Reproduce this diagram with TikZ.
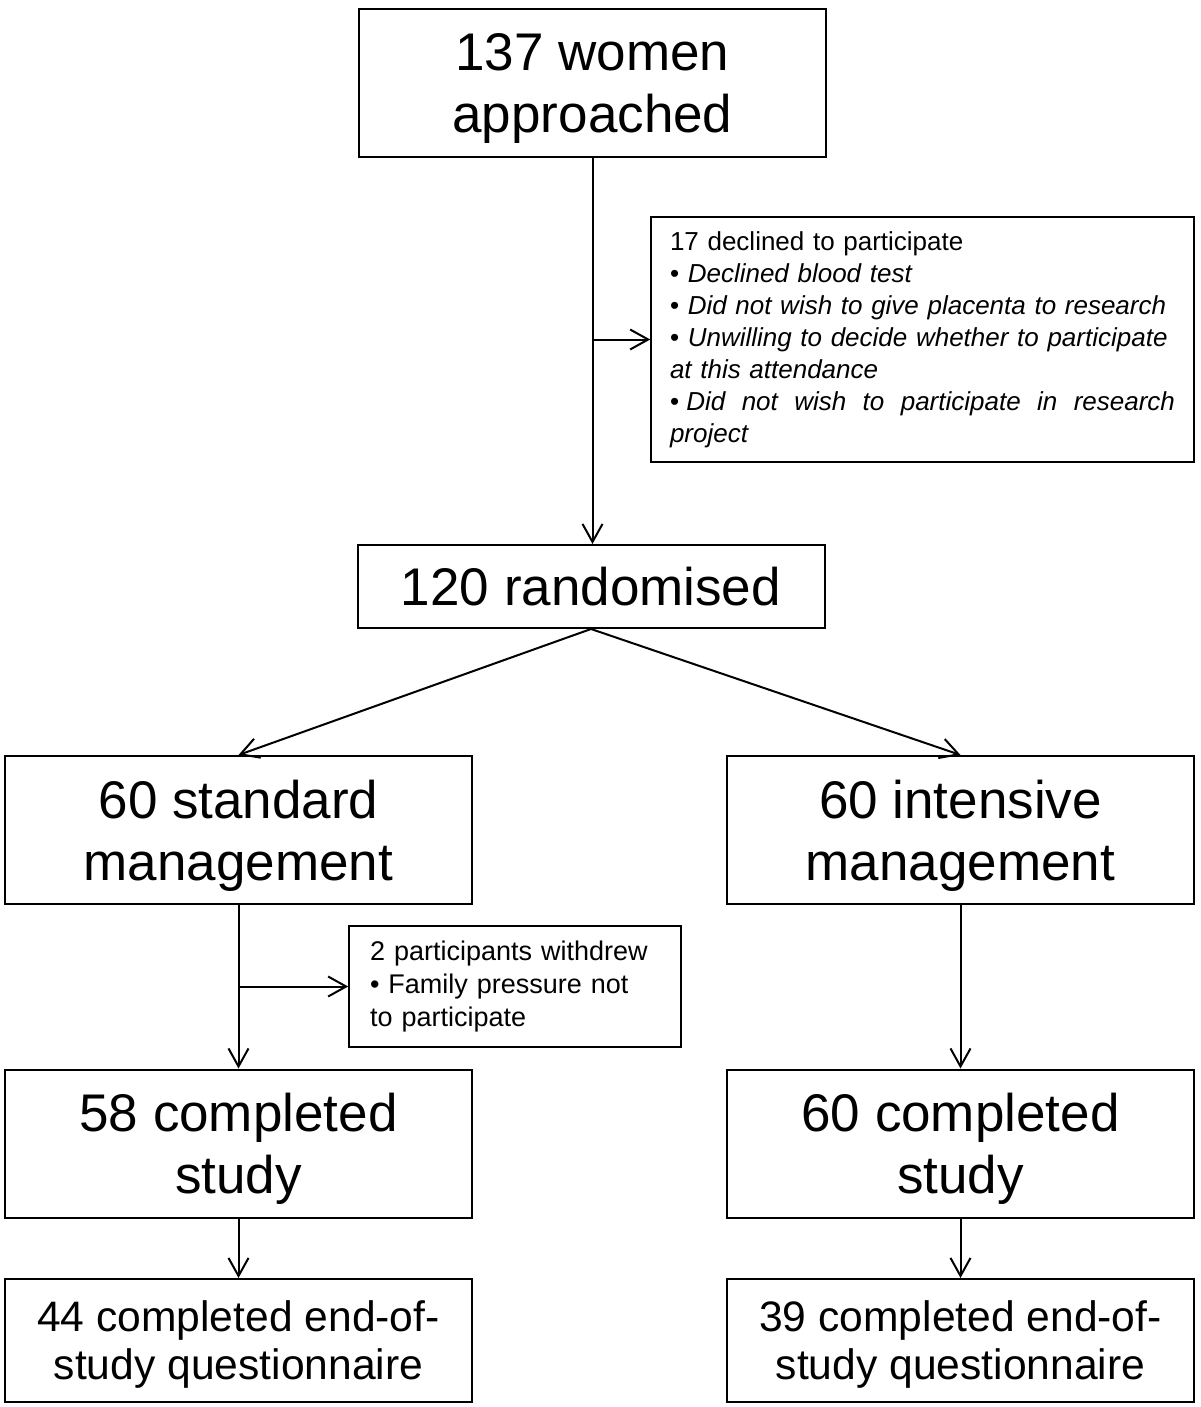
\documentclass[tikz,border=0pt]{standalone}
\usepackage{fontspec}
\setmainfont{Liberation Sans}
\usetikzlibrary{arrows.meta,positioning}

\newcommand{\lift}[1]{\rule{0pt}{#1}}

\begin{document}
\begin{tikzpicture}[x=0.5pt,y=-0.5pt,line width=1pt,
  >={Straight Barb[length=9pt,width=10pt]},
  box/.style={rectangle,draw,align=center,inner sep=0pt,
    minimum width=233.5pt,minimum height=74pt,
    font=\fontsize{26.5}{31}\selectfont},
  endbox/.style={box,minimum height=61.5pt,font=\fontsize{21.3}{24}\selectfont},
  note/.style={rectangle,draw,line width=0.8pt,align=left,inner sep=0pt,
    execute at begin node={\hyphenpenalty=10000\relax\exhyphenpenalty=10000\relax}}]
\useasboundingbox (0,0) rectangle (1200,1407);
\node[box] (approached) at (592.5,83) {\lift{24.5pt}137 women\\approached};
\node[note,text width=252.5pt,minimum width=271.5pt,minimum height=122.5pt,
  font=\fontsize{13}{16}\selectfont] (declined) at (922.5,339.5)
  {17 declined to participate\\
   • \textit{Declined blood test}\\
   • \textit{Did not wish to give placenta to research}\\
   • \textit{Unwilling to decide whether to participate}\\
   \textit{at this attendance}\\
   \makebox[252.5pt][s]{\spaceskip=.25em plus 1fil\relax
     •\kern.28em\textit{Did not wish to participate in research}}\\
   \textit{project}};
\node[box,minimum height=41.5pt] (randomised) at (591,586.5) {120 randomised};
\node[box] (standard) at (238.5,830) {\lift{24.5pt}60 standard\\management};
\node[box] (intensive) at (960.5,830) {\lift{24.5pt}60 intensive\\management};
\node[note,text width=145pt,minimum width=166pt,minimum height=60.5pt,
  font=\fontsize{13.5}{16.5}\selectfont] (withdrew) at (515,986.5)
  {2 participants withdrew\\
   • Family pressure not\\
   to participate};
\node[box] (stdcomp) at (238.5,1143.5) {\lift{24.5pt}58 completed\\study};
\node[box] (intcomp) at (960.5,1143.5) {\lift{24.5pt}60 completed\\study};
\node[endbox] (stdquest) at (238.5,1340.5) {\lift{19.5pt}44 completed end-of-\\study questionnaire};
\node[endbox] (intquest) at (960.5,1340.5) {\lift{19.5pt}39 completed end-of-\\study questionnaire};

\draw[->] (approached.south) -- (approached.south |- randomised.north);
\draw[->] (approached.south |- declined.west) -- (declined.west);
\draw[->] (randomised.south) -- (standard.north);
\draw[->] (randomised.south) -- (intensive.north);
\draw[->] (standard) -- (stdcomp);
\draw[->] (standard.south |- withdrew.west) -- (withdrew.west);
\draw[->] (intensive) -- (intcomp);
\draw[->] (stdcomp) -- (stdquest);
\draw[->] (intcomp) -- (intquest);
\end{tikzpicture}
\end{document}
